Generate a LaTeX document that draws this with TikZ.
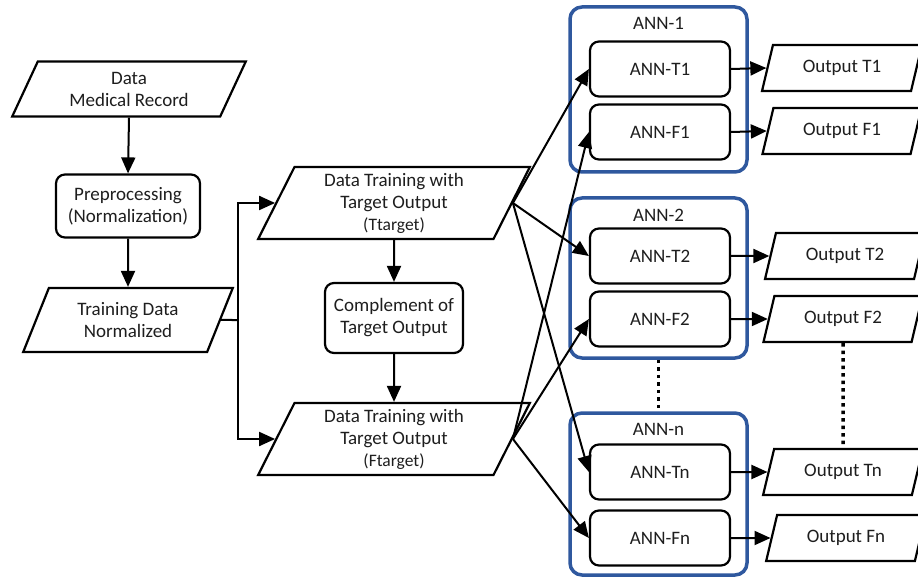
\documentclass[tikz,border=0pt]{standalone}
\usepackage{fontspec}
\setmainfont{Carlito}
\usetikzlibrary{shapes.geometric,arrows.meta,calc}
\definecolor{annblue}{RGB}{47,88,158}
\definecolor{txt}{RGB}{30,30,30}
\begin{document}
\begin{tikzpicture}[x=1pt,y=-1pt,
  font=\fontsize{19}{22}\selectfont, text=txt,
  para/.style={shape=trapezium, draw=black, line width=2.2pt, trapezium stretches=true,
    trapezium left angle=#1, trapezium right angle=180-#1, inner sep=0pt, align=center, fill=white},
  para/.default=65,
  rbox/.style={draw=black, rounded corners=9pt, line width=2.2pt, align=center, inner sep=0pt, fill=white},
  annbox/.style={draw=annblue, line width=3.5pt, rounded corners=12pt, minimum width=177pt},
  annlbl/.style={inner sep=0pt},
  inner/.style={rbox, minimum width=140pt, minimum height=55pt},
  outp/.style={para=68, minimum width=160pt, minimum height=46pt},
  arr/.style={-{Triangle[length=16pt,width=14pt]}, line width=2pt},
  ln/.style={line width=2pt},
  dots/.style={line width=3.5pt, dash pattern=on 3.5pt off 4pt}]
\useasboundingbox (0,0) rectangle (918,577);

% ANN group boxes
\node[annbox, minimum height=165pt] (a1) at (658.5,89.5) {};
\node[annbox, minimum height=160pt] (a2) at (658.5,278) {};
\node[annbox, minimum height=162pt] (an) at (658.5,494) {};
\node[annlbl] (a1l) at (658.5,23) {ANN-1};
\node[annlbl] (a2l) at (658.5,215) {ANN-2};
\node[annlbl] (anl) at (658.5,429) {ANN-n};

% left column
\node[para=64, minimum width=234pt, minimum height=55pt] (dmr) at (129,89) {Data\\Medical Record};
\node[rbox, minimum width=144pt, minimum height=63pt] (pre) at (128,206) {Preprocessing\\(Normalization)};
\node[para=65, minimum width=210pt, minimum height=64pt] (tdn) at (128,320) {Training Data\\Normalized};

% middle column
\node[para=67, minimum width=272pt, minimum height=72pt] (tt) at (394,203)
  {Data Training with\\Target Output\\{\fontsize{17.5}{18}\selectfont (Ttarget)}};
\node[rbox, minimum width=138pt, minimum height=70pt] (comp) at (394,318) {Complement of\\Target Output};
\node[para=67, minimum width=272pt, minimum height=72pt] (ft) at (394,439)
  {Data Training with\\Target Output\\{\fontsize{17.5}{18}\selectfont (Ftarget)}};

% inner ANN boxes
\node[inner] (t1) at (660,69) {ANN-T1};
\node[inner] (f1) at (660,132) {ANN-F1};
\node[inner] (t2) at (660,256) {ANN-T2};
\node[inner] (f2) at (660,319) {ANN-F2};
\node[inner] (tn) at (660,472) {ANN-Tn};
\node[inner] (fn) at (660,538) {ANN-Fn};

% outputs
\node[outp] (ot1) at (842,68) {Output T1};
\node[outp] (of1) at (842,131) {Output F1};
\node[outp] (ot2) at (845,256) {Output T2};
\node[outp] (of2) at (843,319) {Output F2};
\node[outp] (otn) at (843,472) {Output Tn};
\node[outp] (ofn) at (846,538) {Output Fn};

% connectors
\draw[arr] (dmr.south) -- (pre.north);
\draw[arr] (pre.south) -- (tdn.north);
\coordinate (jn) at (238,320);
\draw[ln] (tdn.east) -- (jn);
\draw[arr] (jn) |- (tt.west);
\draw[arr] (jn) |- (ft.west);
\draw[arr] (tt.south) -- (comp.north);
\draw[arr] (comp.south) -- (ft.north);

\foreach \n in {t1,t2,tn} \draw[arr] (tt.east) -- (\n.west);
\foreach \n in {f1,f2,fn} \draw[arr] (ft.east) -- (\n.west);

\draw[arr] (t1.east) -- (ot1.west);
\draw[arr] (f1.east) -- (of1.west);
\draw[arr] (t2.east) -- (ot2.west);
\draw[arr] (f2.east) -- (of2.west);
\draw[arr] (tn.east) -- (otn.west);
\draw[arr] (fn.east) -- (ofn.west);

\draw[dots] (a2.south) -- (an.north);
\draw[dots] (of2.south) -- (otn.north);
\end{tikzpicture}
\end{document}
